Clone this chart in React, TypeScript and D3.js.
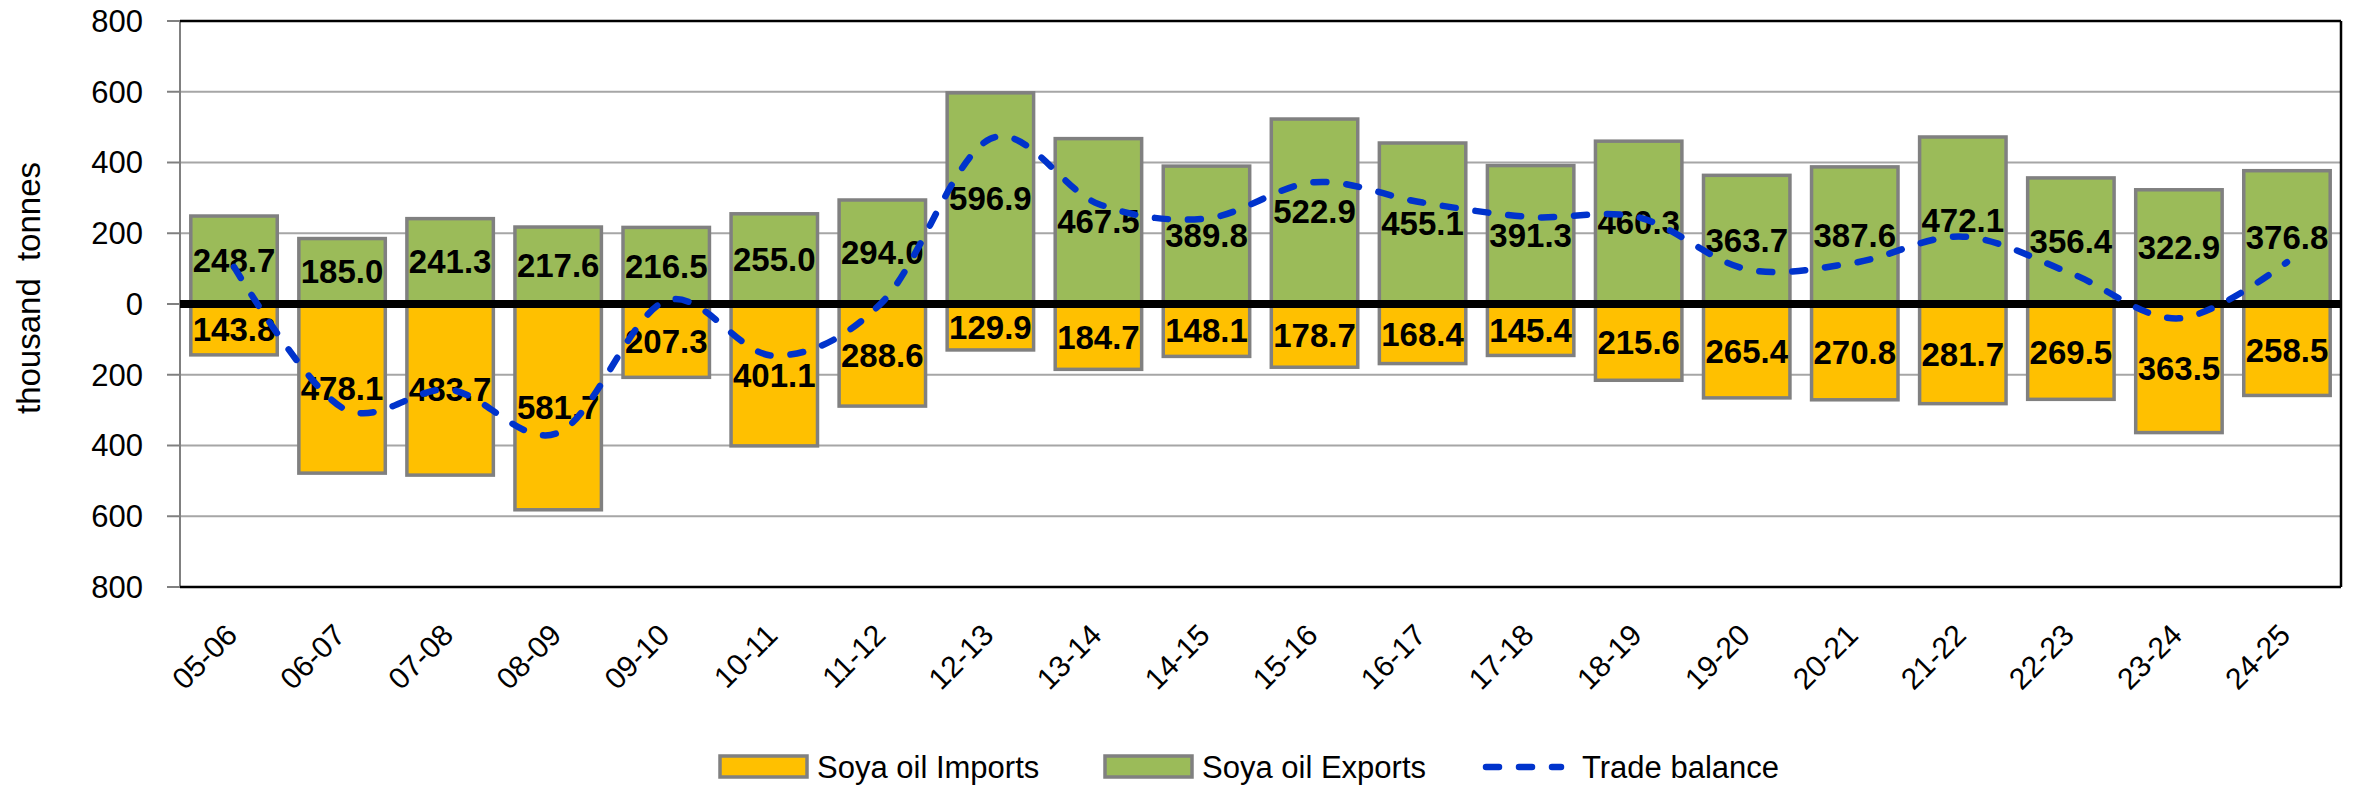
import React from "react";
import * as d3 from "d3";

const categories = ["05-06","06-07","07-08","08-09","09-10","10-11","11-12","12-13","13-14","14-15","15-16","16-17","17-18","18-19","19-20","20-21","21-22","22-23","23-24","24-25"];
const exportsVals = [248.7,185.0,241.3,217.6,216.5,255.0,294.0,596.9,467.5,389.8,522.9,455.1,391.3,460.3,363.7,387.6,472.1,356.4,322.9,376.8];
const importsVals = [143.8,478.1,483.7,581.7,207.3,401.1,288.6,129.9,184.7,148.1,178.7,168.4,145.4,215.6,265.4,270.8,281.7,269.5,363.5,258.5];
const balanceVals = [104.9,-293.1,-242.4,-364.1,9.2,-146.1,5.4,467.0,282.8,241.7,344.2,286.7,245.9,244.7,98.3,116.8,190.4,86.9,-40.6,118.3];
const yTicks = [-800,-600,-400,-200,0,200,400,600,800];
const legendLabels = ["Soya oil Imports","Soya oil Exports","Trade balance"];

const W = 2353, H = 786;
const LEFT = 180, RIGHT = 2341, TOP = 21, BOTTOM = 587;
const FONT = "'Liberation Sans', Arial, sans-serif";

export default function App() {
  const x = d3.scaleBand<string>().domain(categories).range([LEFT, RIGHT]).paddingInner(0.2).paddingOuter(0.1);
  const y = d3.scaleLinear().domain([-800, 800]).range([BOTTOM, TOP]);
  const cx = (c: string) => (x(c) as number) + x.bandwidth() / 2;
  const line = d3.line<number>()
    .x((_, i) => cx(categories[i]))
    .y((d) => y(d))
    .curve(d3.curveCatmullRom.alpha(0));
  const y0 = y(0);

  return (
    <svg width={W} height={H} style={{ position: "absolute", left: 0, top: 0, background: "#fff" }} fontFamily={FONT}>
      {/* gridlines */}
      {yTicks.map((t) => (
        <g key={"g" + t}>
          {t !== 0 && t !== 800 && t !== -800 && (
            <line x1={LEFT} x2={RIGHT} y1={y(t)} y2={y(t)} stroke="#A6A6A6" strokeWidth={2} />
          )}
          <line x1={LEFT - 13} x2={LEFT} y1={y(t)} y2={y(t)} stroke="#808080" strokeWidth={2} />
          <text x={143} y={y(t)} dy="0.35em" textAnchor="end" fontSize={31} fill="#000">{Math.abs(t)}</text>
        </g>
      ))}
      {/* frame */}
      <line x1={LEFT} x2={LEFT} y1={TOP} y2={BOTTOM} stroke="#808080" strokeWidth={2} />
      <line x1={LEFT} x2={RIGHT} y1={TOP} y2={TOP} stroke="#000" strokeWidth={2.5} />
      <line x1={LEFT} x2={RIGHT} y1={BOTTOM} y2={BOTTOM} stroke="#000" strokeWidth={2.5} />
      <line x1={RIGHT} x2={RIGHT} y1={TOP} y2={BOTTOM} stroke="#000" strokeWidth={2.5} />

      {/* bars */}
      {categories.map((c, i) => (
        <g key={"b" + c}>
          <rect x={x(c)} y={y(exportsVals[i])} width={x.bandwidth()} height={y0 - y(exportsVals[i])}
            fill="#9BBB59" stroke="#808080" strokeWidth={3.5} />
          <rect x={x(c)} y={y0} width={x.bandwidth()} height={y(-importsVals[i]) - y0}
            fill="#FFC000" stroke="#808080" strokeWidth={3.5} />
        </g>
      ))}

      {/* zero line */}
      <line x1={LEFT} x2={RIGHT} y1={y0} y2={y0} stroke="#000" strokeWidth={8} />

      {/* data labels */}
      {categories.map((c, i) => (
        <g key={"l" + c} fontWeight="bold" fontSize={33} textAnchor="middle">
          <text x={cx(c)} y={y(exportsVals[i] / 2)} dy="0.36em">{exportsVals[i].toFixed(1)}</text>
          <text x={cx(c)} y={y(-importsVals[i] / 2)} dy="0.36em">{importsVals[i].toFixed(1)}</text>
        </g>
      ))}

      {/* trade balance */}
      <path d={line(balanceVals) || ""} fill="none" stroke="#0033CC" strokeWidth={6.5}
        strokeDasharray="13 20" strokeLinecap="round" />

      {/* x labels */}
      {categories.map((c) => (
        <text key={"x" + c} transform={`translate(${cx(c) + 5},${BOTTOM + 50}) rotate(-45)`}
          textAnchor="end" fontSize={30}>{c}</text>
      ))}

      {/* y title */}
      <text transform={`translate(40,288) rotate(-90)`} textAnchor="middle" fontSize={33} wordSpacing={8}>thousand tonnes</text>

      {/* legend */}
      <rect x={720} y={756} width={87} height={21} fill="#FFC000" stroke="#808080" strokeWidth={3.5} />
      <text x={817} y={778} fontSize={31}>{legendLabels[0]}</text>
      <rect x={1105} y={756} width={87} height={21} fill="#9BBB59" stroke="#808080" strokeWidth={3.5} />
      <text x={1202} y={778} fontSize={31}>{legendLabels[1]}</text>
      <line x1={1486} x2={1561} y1={767} y2={767} stroke="#0033CC" strokeWidth={6.5} strokeDasharray="13 20" strokeLinecap="round" />
      <text x={1582} y={778} fontSize={31}>{legendLabels[2]}</text>
    </svg>
  );
}
